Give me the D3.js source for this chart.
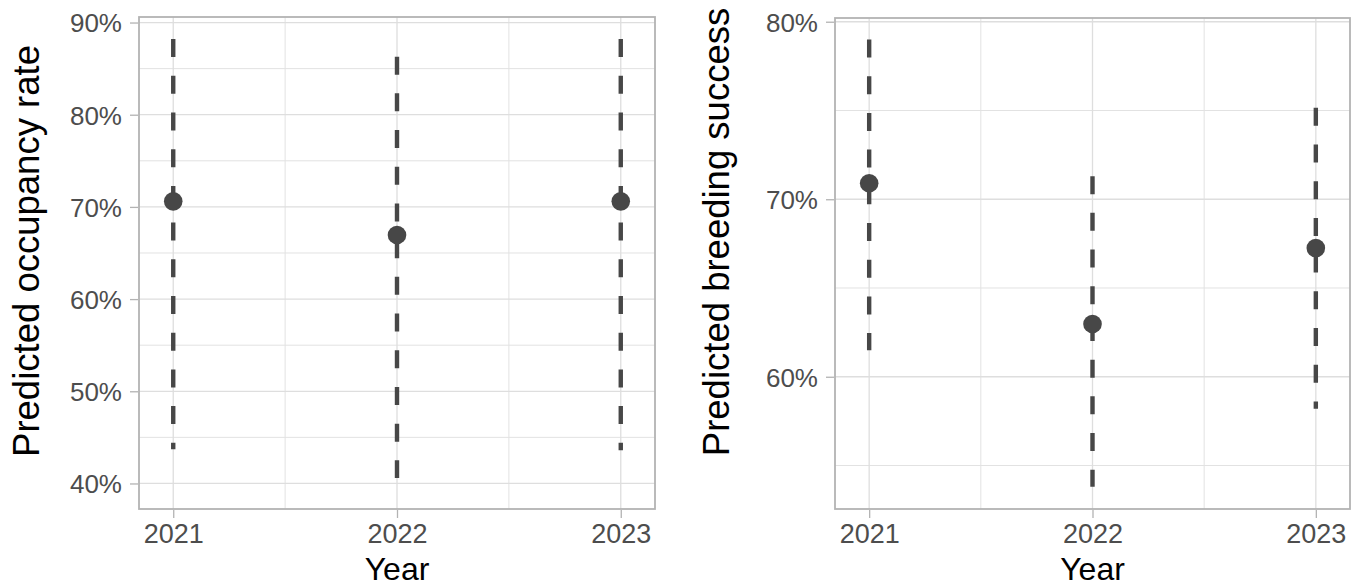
<!DOCTYPE html>
<html>
<head>
<meta charset="utf-8">
<script src="https://cdn.jsdelivr.net/npm/d3@7"></script>
<style>
  html, body { margin: 0; padding: 0; background: #fff; }
  svg { display: block; font-family: "Liberation Sans", Arial, sans-serif; }
</style>
</head>
<body>
<svg id="chart" width="1357" height="587"></svg>
<script>
const years = [2021, 2022, 2023];
const yearMinor = [2021.5, 2022.5];

const occEst = [0.706, 0.6695, 0.706];
const occLo  = [0.437, 0.406, 0.436];
const occHi  = [0.882, 0.863, 0.882];
const occTicks = [0.4, 0.5, 0.6, 0.7, 0.8, 0.9];
const occMinor = [0.45, 0.55, 0.65, 0.75, 0.85];

const brEst = [0.709, 0.6297, 0.6725];
const brLo  = [0.615, 0.538, 0.582];
const brHi  = [0.790, 0.713, 0.7515];
const brTicks = [0.6, 0.7, 0.8];
const brMinor = [0.55, 0.65, 0.75];

const svg = d3.select("#chart");
const pct = d3.format(".0%");

function panel(opt) {
  const { left, right, top, bottom, yDomain, est, lo, hi, ticks, minor, title, titleX, titleY } = opt;
  const pad = 0.153;
  const x = d3.scaleLinear().domain([2021 - pad, 2023 + pad]).range([left, right]);
  const y = d3.scaleLinear().domain(yDomain).range([bottom, top]);
  const g = svg.append("g");

  // minor grid
  g.selectAll(".hminor").data(minor).join("line")
    .attr("x1", left).attr("x2", right)
    .attr("y1", d => y(d)).attr("y2", d => y(d))
    .attr("stroke", "#e2e2e2").attr("stroke-width", 1);
  g.selectAll(".vminor").data(yearMinor).join("line")
    .attr("y1", top).attr("y2", bottom)
    .attr("x1", d => x(d)).attr("x2", d => x(d))
    .attr("stroke", "#e2e2e2").attr("stroke-width", 1);
  // major grid
  g.selectAll(".hmajor").data(ticks).join("line")
    .attr("x1", left).attr("x2", right)
    .attr("y1", d => y(d)).attr("y2", d => y(d))
    .attr("stroke", "#dedede").attr("stroke-width", 1.3);
  g.selectAll(".vmajor").data(years).join("line")
    .attr("y1", top).attr("y2", bottom)
    .attr("x1", d => x(d)).attr("x2", d => x(d))
    .attr("stroke", "#dedede").attr("stroke-width", 1.3);

  // error bars (dashed, drawn from top to bottom)
  g.selectAll(".err").data(years).join("line")
    .attr("x1", d => x(d)).attr("x2", d => x(d))
    .attr("y1", (d, i) => y(hi[i])).attr("y2", (d, i) => y(lo[i]))
    .attr("stroke", "#474747").attr("stroke-width", 4.4)
    .attr("stroke-dasharray", "18,18.7");

  // points
  g.selectAll(".pt").data(years).join("circle")
    .attr("cx", d => x(d)).attr("cy", (d, i) => y(est[i]))
    .attr("r", 9.3).attr("fill", "#474747");

  // border
  g.append("rect").attr("x", left).attr("y", top)
    .attr("width", right - left).attr("height", bottom - top)
    .attr("fill", "none").attr("stroke", "#b3b3b3").attr("stroke-width", 1.8);

  // y axis
  const ya = d3.axisLeft(y).tickValues(ticks).tickFormat(pct).tickSize(8).tickPadding(8);
  const yg = g.append("g").attr("transform", `translate(${left - 1},0)`).call(ya);
  yg.select(".domain").remove();
  yg.selectAll(".tick line").attr("stroke", "#b3b3b3").attr("stroke-width", 1.3);
  yg.selectAll(".tick text").attr("fill", "#4d4d4d").attr("font-size", 26)
    .attr("font-family", "Liberation Sans, Arial, sans-serif").attr("dy", "0.36em");

  // x axis
  const xa = d3.axisBottom(x).tickValues(years).tickFormat(d3.format("d")).tickSize(8).tickPadding(6);
  const xg = g.append("g").attr("transform", `translate(0,${bottom + 1})`).call(xa);
  xg.select(".domain").remove();
  xg.selectAll(".tick line").attr("stroke", "#b3b3b3").attr("stroke-width", 1.3);
  xg.selectAll(".tick text").attr("fill", "#4d4d4d").attr("font-size", 27)
    .attr("font-family", "Liberation Sans, Arial, sans-serif").attr("dy", "0.71em");

  // titles
  g.append("text").attr("x", (left + right) / 2).attr("y", 580)
    .attr("text-anchor", "middle").attr("font-size", 32).attr("fill", "#000").text("Year");
  g.append("text").attr("transform", `translate(${titleX},${titleY}) rotate(-90)`)
    .attr("text-anchor", "middle").attr("font-size", 36.5).attr("fill", "#000").text(title);
}

panel({ left: 139, right: 655, top: 17, bottom: 509,
  yDomain: [0.3723, 0.906], est: occEst, lo: occLo, hi: occHi,
  ticks: occTicks, minor: occMinor,
  title: "Predicted occupancy rate", titleX: 39, titleY: 251 });

panel({ left: 835, right: 1350, top: 18, bottom: 509,
  yDomain: [0.5255, 0.8021], est: brEst, lo: brLo, hi: brHi,
  ticks: brTicks, minor: brMinor,
  title: "Predicted breeding success", titleX: 729, titleY: 232 });
</script>
</body>
</html>
